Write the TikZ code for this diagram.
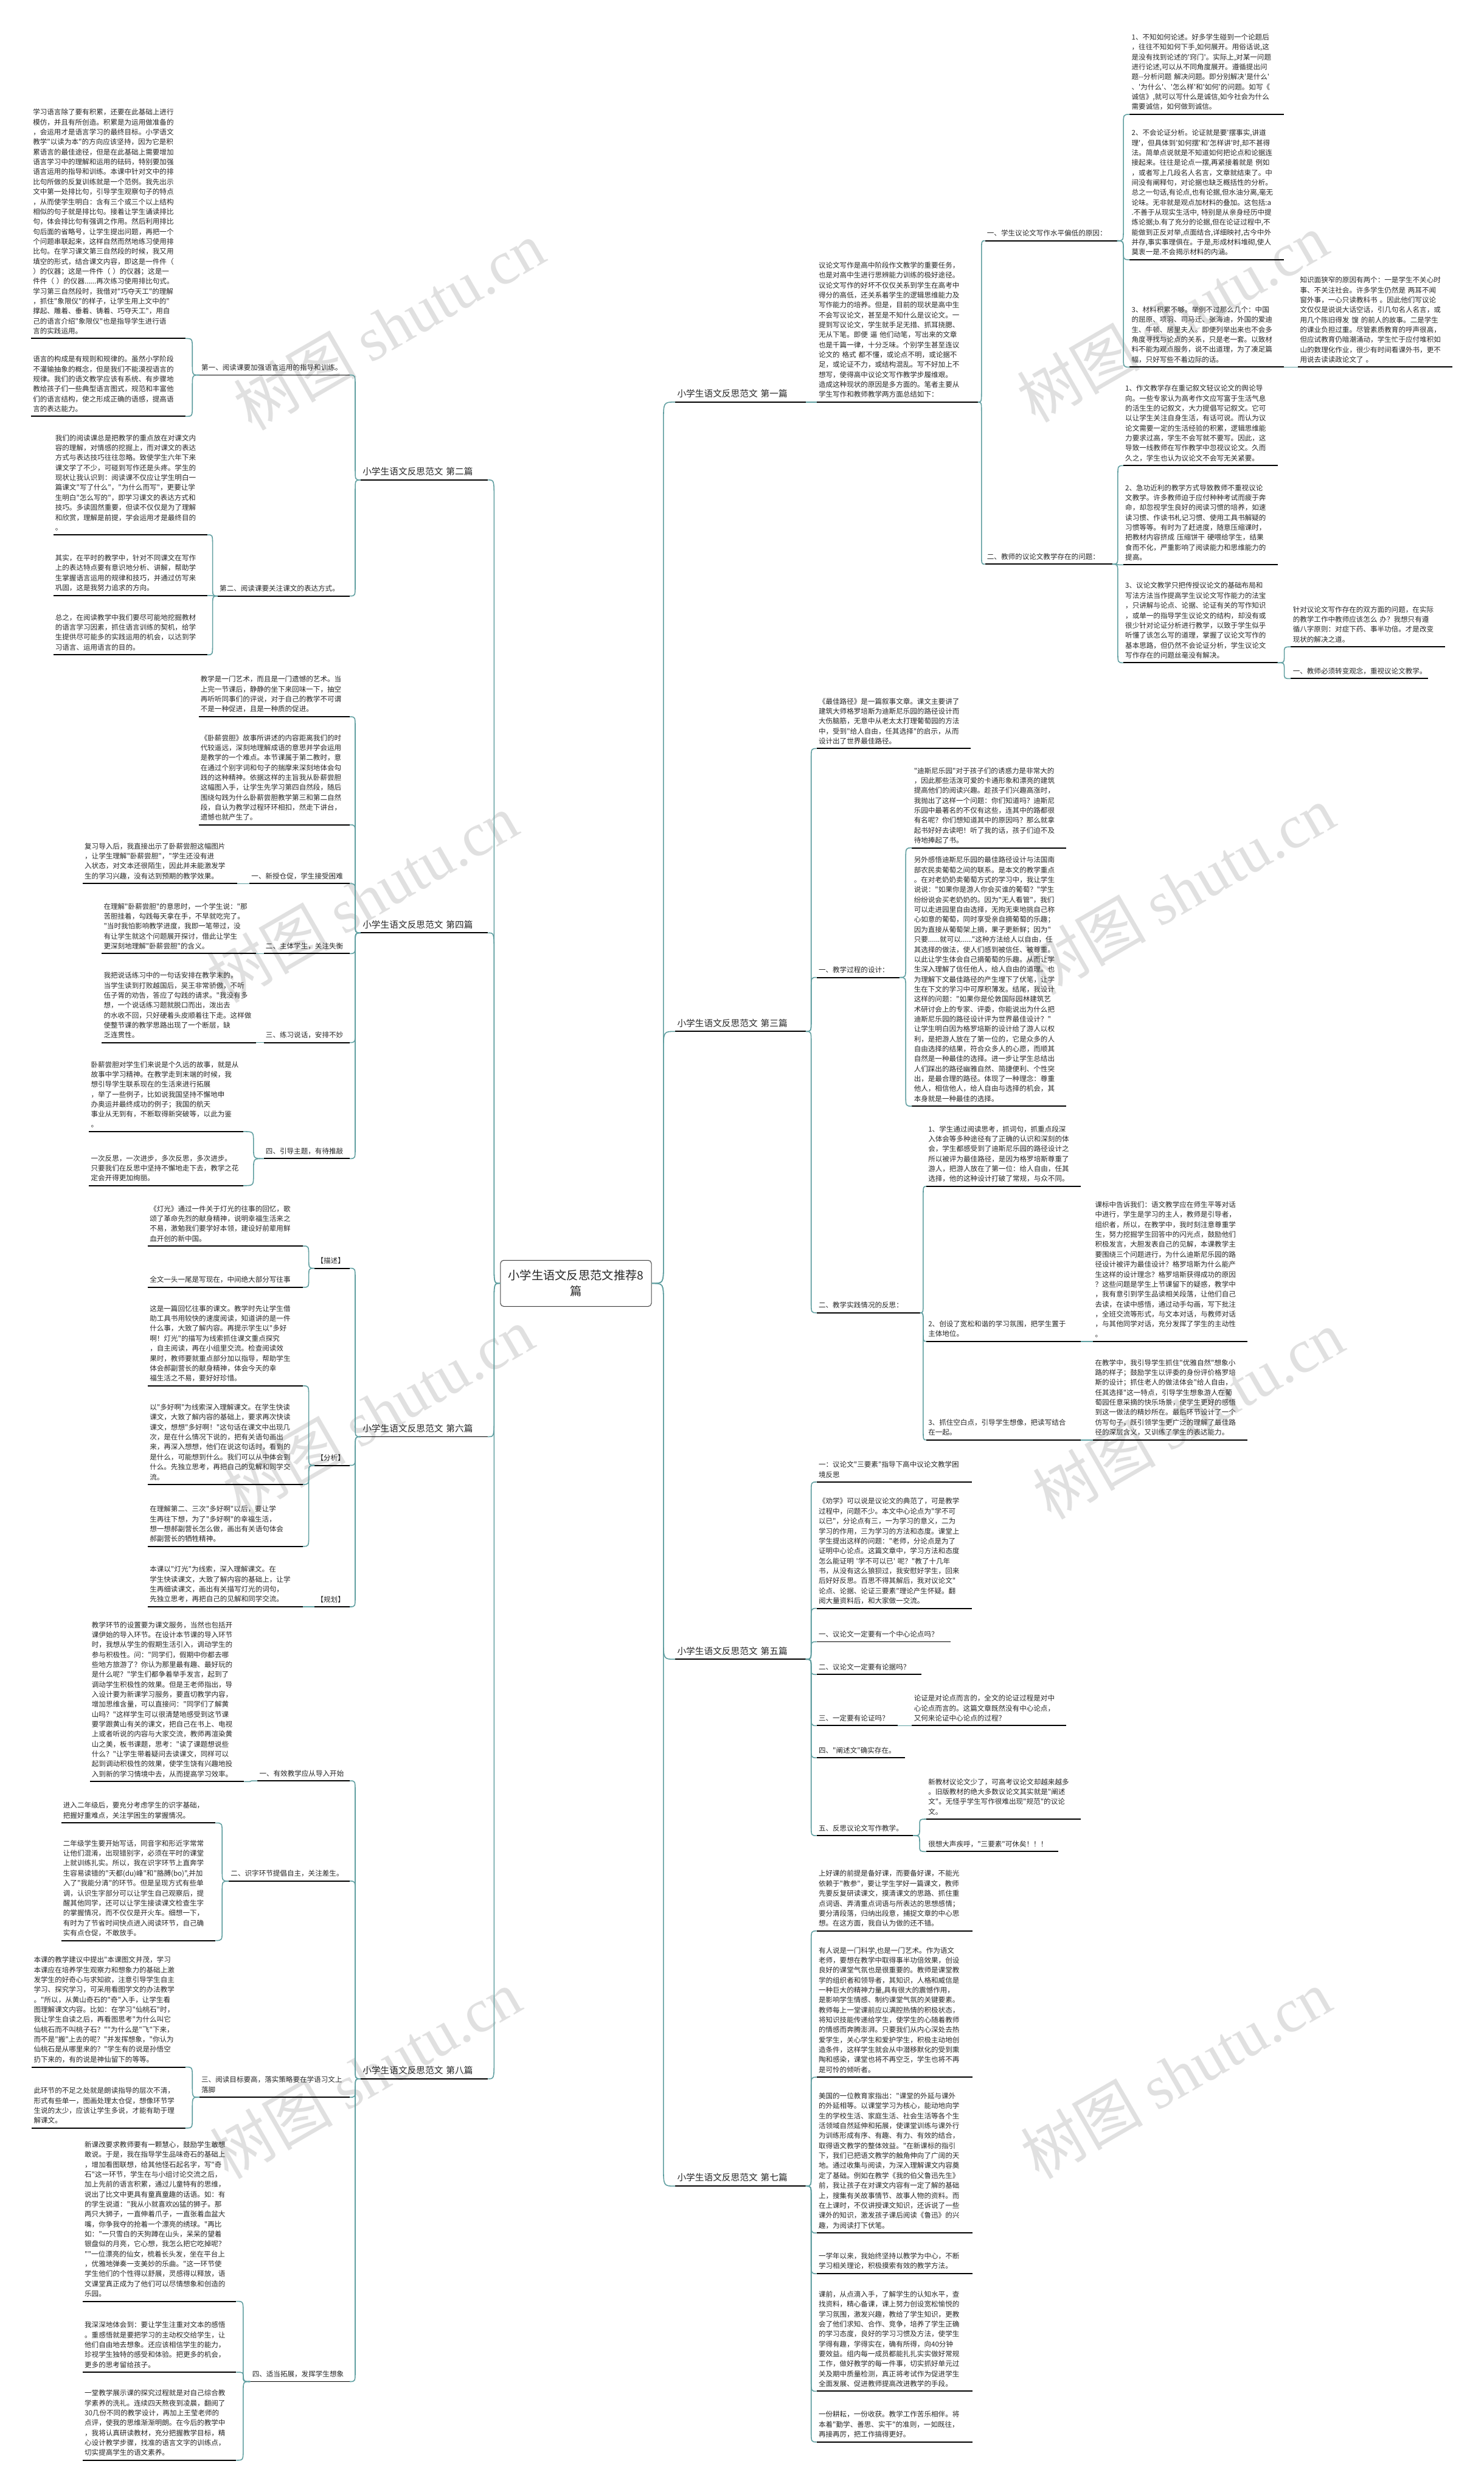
\documentclass[tikz,border=0pt]{standalone}
\usepackage{fontspec}
\setmainfont{Noto Sans CJK SC}[Ligatures=TeXOff]
\newfontfamily\wmlatin{Liberation Serif}
\usetikzlibrary{calc}
\definecolor{linkc}{HTML}{5F9EA0}
\definecolor{inkc}{HTML}{262626}
\newcommand\txtfont{\fontsize{12.6}{17.8}\selectfont}
\newcommand\catfont{\fontsize{16}{20}\selectfont}
\newcommand\rootfont{\fontsize{21}{28}\selectfont}
\tikzset{
  txt/.style={anchor=south west, align=left, inner xsep=1.2mm, inner ysep=2.6mm, font=\txtfont, text=inkc, text width=#1},
  cat/.style={txt=#1, font=\catfont},
  uline/.style={draw=black, line width=0.75mm},
  link/.style={draw=linkc, line width=0.6mm},
  bracket/.style={to path={let \p1=(\tikztostart), \p2=(\tikztotarget),
      \n1={0.5*(\x1+\x2)}, \n2={ifthenelse(\y2>\y1,1,-1)*min(#1*2.845,0.5*abs(\y2-\y1))} in
      .. controls (\n1,\y1) .. (\n1,\y1+\n2) -- (\n1,\y2-\n2) .. controls (\n1,\y2) .. (\tikztotarget)}},
  bracket/.default=7,
  wmark/.style={rotate=30, text=black!20, opacity=0.6, font=\fontsize{110}{110}\selectfont}
}
\begin{document}
\begin{tikzpicture}[x=1mm, y=-1mm]
\useasboundingbox (0,0) rectangle (934,1568);

% watermark
\foreach \wx/\wy [count=\k] in {245/205, 228/565, 238/888, 230/1305, 738/200, 742/560, 748/890, 740/1305}
  \node[wmark] (wm\k) at (\wx,\wy) {树图 {\wmlatin shutu.cn}};

% centre
\node[draw=black!75, line width=0.4mm, rounded corners=2mm, minimum width=95mm, minimum height=29mm,
  text width=89mm, align=center, font=\rootfont, text=inkc] (root) at (362.5,807.5) {小学生语文反思范文推荐8\\篇};

% ---------- first
\node[cat=79.6mm] (p1) at (425,253) {小学生语文反思范文 第一篇};
\node[txt=99mm] (p1i) at (514,253) {议论文写作是高中阶段作文教学的重要任务，\\
也是对高中生进行思辨能力训练的极好途径。\\
议论文写作的好坏不仅仅关系到学生在高考中\\
得分的高低，还关系着学生的逻辑思维能力及\\
写作能力的培养。但是，目前的现状是高中生\\
不会写议论文，甚至是不知什么是议论文。一\\
提到写议论文，学生就手足无措、抓耳挠腮、\\
无从下笔。即便 逼 他们动笔，写出来的文章\\
也是千篇一律，十分乏味。个别学生甚至连议\\
论文的 格式 都不懂，或论点不明，或论据不\\
足，或论证不力，或结构混乱。写不好加上不\\
想写，使得高中议论文写作教学步履维艰。\\
造成这种现状的原因是多方面的。笔者主要从\\
学生写作和教师教学两方面总结如下：};
\node[txt=80.6mm] (p1a) at (620,151.5) {一、学生议论文写作水平偏低的原因：};
\node[txt=94.6mm] (p1a1) at (711,72) {1、不知如何论述。好多学生碰到一个论题后\\
，往往不知如何下手,如何展开。用俗话说,这\\
是没有找到论述的'窍门'。实际上,对某一问题\\
进行论述,可以从不同角度展开。遵循提出问\\
题--分析问题 解决问题。即分别解决'是什么'\\
、'为什么'、'怎么样'和'如何'的问题。如写《\\
诚信》,就可以写什么是诚信,如今社会为什么\\
需要诚信，如何做到诚信。};
\node[txt=94.6mm] (p1a2) at (711,163.4) {2、不会论证分析。论证就是要'摆事实,讲道\\
理'，但具体到'如何摆'和'怎样讲'时,却不甚得\\
法。简单点说就是不知道如何把论点和论据连\\
接起来。往往是论点一摆,再紧接着就是 例如\\
，或者写上几段名人名言，文章就结束了。中\\
间没有阐释句，对论据也缺乏概括性的分析。\\
总之一句话,有论点,也有论据,但水油分离,毫无\\
论味。无非就是观点加材料的叠加。这包括:a\\
.不善于从现实生活中, 特别是从亲身经历中提\\
炼论据;b.有了充分的论据,但在论证过程中,不\\
能做到正反对举,点面结合,详细映衬,古今中外\\
并存,事实事理俱在。于是,形成材料堆砌,使人\\
莫衷一是.不会揭示材料的内涵。};
\node[txt=94.6mm] (p1a3) at (711,231) {3、材料积累不够。举例不过那么几个：中国\\
的屈原、项羽、司马迁、张海迪，外国的爱迪\\
生、牛顿、居里夫人。即便列举出来也不会多\\
角度寻找与论点的关系，只是老一套。以致材\\
料不能为观点服务，说不出道理，为了凑足篇\\
幅，只好写些不着边际的话。};
\node[txt=94.6mm] (p1a3x) at (817,231) {知识面狭窄的原因有两个：一是学生不关心时\\
事、不关注社会。许多学生仍然是 两耳不闻\\
窗外事，一心只读教科书 。因此他们写议论\\
文仅仅是说说大话空话，引几句名人名言，或\\
用几个陈旧得发 馊 的前人的故事。二是学生\\
的课业负担过重。尽管素质教育的呼声很高，\\
但应试教育仍暗潮涌动，学生忙于应付堆积如\\
山的数理化作业，很少有时间看课外书，更不\\
用说去读读政论文了 。};
\node[txt=77.6mm] (p1b) at (620,355) {二、教师的议论文教学存在的问题：};
\node[txt=94.6mm] (p1b1) at (707,293) {1、作文教学存在重记叙文轻议论文的舆论导\\
向。一些专家认为高考作文应写富于生活气息\\
的活生生的记叙文，大力提倡写记叙文。它可\\
以让学生关注自身生活，有话可说。而认为议\\
论文需要一定的生活经验的积累，逻辑思维能\\
力要求过高，学生不会写就不要写。因此，这\\
导致一线教师在写作教学中忽视议论文。久而\\
久之，学生也认为议论文不会写无关紧要。};
\node[txt=94.6mm] (p1b2) at (707,355.4) {2、急功近利的教学方式导致教师不重视议论\\
文教学。许多教师迫于应付种种考试而疲于奔\\
命，却忽视学生良好的阅读习惯的培养，如速\\
读习惯、作读书札记习惯、使用工具书解疑的\\
习惯等等。有时为了赶进度，随意压缩课时，\\
把教材内容挤成 压缩饼干 硬喂给学生，结果\\
食而不化，严重影响了阅读能力和思维能力的\\
提高。};
\node[txt=94.6mm] (p1b3) at (707,417) {3、议论文教学只把传授议论文的基础布局和\\
写法方法当作提高学生议论文写作能力的法宝\\
，只讲解与论点、论据、论证有关的写作知识\\
，或单一的指导学生议论文的结构，却没有或\\
很少针对论证分析进行教学，以致于学生似乎\\
听懂了该怎么写的道理，掌握了议论文写作的\\
基本思路，但仍然不会论证分析，学生议论文\\
写作存在的问题丝毫没有解决。};
\node[txt=94.6mm] (p1b3x) at (812.5,407) {针对议论文写作存在的双方面的问题，在实际\\
的教学工作中教师应该怎么 办？我想只有遵\\
循八字原则：对症下药、事半功倍。才是改变\\
现状的解决之道。};
\node[txt=83.6mm] (p1b3y) at (812.5,427) {一、教师必须转变观念，重视议论文教学。};

% ---------- third
\node[cat=79.6mm] (p3) at (425,649) {小学生语文反思范文 第三篇};
\node[txt=94.6mm] (p3i) at (514,471) {《最佳路径》是一篇叙事文章。课文主要讲了\\
建筑大师格罗培斯为迪斯尼乐园的路径设计而\\
大伤脑筋，无意中从老太太打理葡萄园的方法\\
中，受到"给人自由，任其选择"的启示，从而\\
设计出了世界最佳路径。};
\node[txt=49.6mm] (p3a) at (514,615) {一、教学过程的设计：};
\node[txt=94.6mm] (p3a1) at (574,533.5) {"迪斯尼乐园"对于孩子们的诱惑力是非常大的\\
，因此那些活泼可爱的卡通形象和漂亮的建筑\\
提高他们的阅读兴趣。趁孩子们兴趣高涨时，\\
我抛出了这样一个问题：你们知道吗？迪斯尼\\
乐园中最著名的不仅有这些，连其中的路都很\\
有名呢？你们想知道其中的原因吗？那么就拿\\
起书好好去读吧！听了我的话，孩子们迫不及\\
待地捧起了书。};
\node[txt=94.6mm] (p3a2) at (574,696) {另外感悟迪斯尼乐园的最佳路径设计与法国南\\
部农民卖葡萄之间的联系。是本文的教学重点\\
。在对老奶奶卖葡萄方式的学习中，我让学生\\
说说："如果你是游人你会买谁的葡萄？"学生\\
纷纷说会买老奶奶的。因为"无人看管"，我们\\
可以走进园里自由选择，无拘无束地挑自己称\\
心如意的葡萄，同时享受亲自摘葡萄的乐趣；\\
因为直接从葡萄架上摘，果子更新鲜；因为"\\
只要......就可以......"这种方法给人以自由，任\\
其选择的做法，使人们感到被信任、被尊重。\\
以此让学生体会自己摘葡萄的乐趣。从而让学\\
生深入理解了信任他人，给人自由的道理。也\\
为理解下文最佳路径的产生埋下了伏笔，让学\\
生在下文的学习中可厚积薄发。结尾，我设计\\
这样的问题："如果你是伦敦国际园林建筑艺\\
术研讨会上的专家、评委，你能说出为什么把\\
迪斯尼乐园的路径设计评为世界最佳设计？"\\
让学生明白因为格罗培斯的设计给了游人以权\\
利，是把游人放在了第一位的，它是众多的人\\
自由选择的结果，符合众多人的心愿，而顺其\\
自然是一种最佳的选择。进一步让学生总结出\\
人们踩出的路径幽雅自然、简捷便利、个性突\\
出，是最合理的路径。体现了一种理念：尊重\\
他人，相信他人，给人自由与选择的机会，其\\
本身就是一种最佳的选择。};
\node[txt=62.6mm] (p3b) at (514,826) {二、教学实践情况的反思：};
\node[txt=94.6mm] (p3b1) at (583,746.5) {1、学生通过阅读思考，抓词句，抓重点段深\\
入体会等多种途径有了正确的认识和深刻的体\\
会，学生都感受到了迪斯尼乐园的路径设计之\\
所以被评为最佳路径，是因为格罗培斯尊重了\\
游人，把游人放在了第一位：给人自由，任其\\
选择，他的这种设计打破了常规，与众不同。};
\node[txt=94.6mm] (p3b2) at (583,844) {2、创设了宽松和谐的学习氛围，把学生置于\\
主体地位。};
\node[txt=94.6mm] (p3b2x) at (688,844) {课标中告诉我们：语文教学应在师生平等对话\\
中进行，学生是学习的主人，教师是引导者，\\
组织者，所以，在教学中，我时刻注意尊重学\\
生，努力挖掘学生回答中的闪光点，鼓励他们\\
积极发言，大胆发表自己的见解，本课教学主\\
要围绕三个问题进行，为什么迪斯尼乐园的路\\
径设计被评为最佳设计？格罗培斯为什么能产\\
生这样的设计理念？格罗培斯获得成功的原因\\
？这些问题是学生上节课留下的疑惑，教学中\\
，我有意引到学生品读相关段落，让他们自己\\
去读，在读中感悟，通过动手勾画，写下批注\\
，全班交流等形式，与文本对话，与教师对话\\
，与其他同学对话，充分发挥了学生的主动性\\
。};
\node[txt=94.6mm] (p3b3) at (583,906) {3、抓住空白点，引导学生想像，把读写结合\\
在一起。};
\node[txt=94.6mm] (p3b3x) at (688,906) {在教学中，我引导学生抓住"优雅自然"想象小\\
路的样子；鼓励学生以评委的身份评价格罗培\\
斯的设计；抓住老人的做法体会"给人自由，\\
任其选择"这一特点，引导学生想象游人在葡\\
萄园任意采摘的快乐场景，使学生更好的感悟\\
到这一做法的精妙所在。最后环节设计了一个\\
仿写句子，既引领学生更广泛的理解了最佳路\\
径的深层含义，又训练了学生的表达能力。};

% ---------- fifth
\node[cat=79.6mm] (p5) at (425,1044) {小学生语文反思范文 第五篇};
\node[txt=95.1mm] (p5a) at (514,932.5) {一：议论文"三要素"指导下高中议论文教学困\\
境反思};
\node[txt=95.1mm] (p5b) at (514,1012) {《劝学》可以说是议论文的典范了，可是教学\\
过程中，问题不少。本文中心论点为"学不可\\
以已"，分论点有三，一为学习的意义，二为\\
学习的作用，三为学习的方法和态度。课堂上\\
学生提出这样的问题："老师，分论点是为了\\
证明中心论点。这篇文章中，学习方法和态度\\
怎么能证明 '学不可以已' 呢？"教了十几年\\
书，从没有这么狼狈过，我安慰好学生，回来\\
后好好反思。百思不得其解后，我对议论文"\\
论点、论据、论证三要素"理论产生怀疑。翻\\
阅大量资料后，和大家做一交流。};
\node[txt=81.6mm] (p5c) at (514,1033) {一、议论文一定要有一个中心论点吗？};
\node[txt=63.6mm] (p5d) at (514,1053.6) {二、议论文一定要有论据吗？};
\node[txt=48.6mm] (p5e) at (514,1085.8) {三、一定要有论证吗？};
\node[txt=94.6mm] (p5ex) at (574,1085.8) {论证是对论点而言的，全文的论证过程是对中\\
心论点而言的。这篇文章既然没有中心论点，\\
又何来论证中心论点的过程？};
\node[txt=53.1mm] (p5f) at (514,1106) {四、"阐述文"确实存在。};
\node[txt=58.1mm] (p5g) at (514,1155) {五、反思议论文写作教学。};
\node[txt=94.6mm] (p5g1) at (583,1144.6) {新教材议论文少了，可高考议论文却越来越多\\
。旧版教材的绝大多数议论文其实就是"阐述\\
文"。无怪乎学生写作很难出现"规范"的议论\\
文。};
\node[txt=80.6mm] (p5g2) at (583,1165) {很想大声疾呼，"三要素"可休矣！！！};

% ---------- seventh
\node[cat=79.6mm] (p7) at (425,1375.5) {小学生语文反思范文 第七篇};
\node[txt=95.6mm] (p7a) at (514,1215) {上好课的前提是备好课，而要备好课，不能光\\
依赖于"教参"，要让学生学好一篇课文，教师\\
先要反复研读课文，摸清课文的思路、抓住重\\
点词语、弄清重点词语与所表达的思想感情；\\
要分清段落，归纳出段意，捕捉文章的中心思\\
想。在这方面，我自认为做的还不错。};
\node[txt=95.6mm] (p7b) at (514,1307) {有人说是一门科学,也是一门艺术。作为语文\\
老师，要想在教学中取得事半功倍效果，创设\\
良好的课堂气氛也是很重要的。教师是课堂教\\
学的组织者和领导者，其知识，人格和威信是\\
一种巨大的精神力量,具有很大的震憾作用，\\
是影响学生情感、制约课堂气氛的关键要素。\\
教师每上一堂课前应以满腔热情的积极状态，\\
将知识技能传递给学生，使学生的心随着教师\\
的情感而奔腾澎湃。只要我们从内心深处去热\\
爱学生，关心学生和爱护学生，积极主动地创\\
造条件，这样学生就会从中潜移默化的受到熏\\
陶和感染，课堂也将不再空乏，学生也将不再\\
是可怜的倾听者。};
\node[txt=95.6mm] (p7c) at (514,1405) {美国的一位教育家指出："课堂的外延与课外\\
的外延相等。以课堂学习为核心，能动地向学\\
生的学校生活、家庭生活、社会生活等各个生\\
活领域自然延伸和拓展，使课堂训练与课外行\\
为训练形成有序、有趣、有力、有效的结合，\\
取得语文教学的整体效益。"在新课标的指引\\
下，我们已把语文教学的触角伸向了广阔的天\\
地。通过收集与阅读，为深入理解课文内容奠\\
定了基础。例如在教学《我的伯父鲁迅先生》\\
前，我让孩子在对课文内容有一定了解的基础\\
上，搜集有关故事情节、故事人物的资料。而\\
在上课时，不仅讲授课文知识，还诉说了一些\\
课外的知识，激发孩子课后阅读《鲁迅》的兴\\
趣，为阅读打下伏笔。};
\node[txt=95.6mm] (p7d) at (514,1430.6) {一学年以来，我始终坚持以教学为中心，不断\\
学习相关理论，积极摸索有效的教学方法。};
\node[txt=95.6mm] (p7e) at (514,1504.6) {课前，从点滴入手，了解学生的认知水平，查\\
找资料，精心备课，课上努力创设宽松愉悦的\\
学习氛围，激发兴趣，教给了学生知识，更教\\
会了他们求知、合作、竞争，培养了学生正确\\
的学习态度，良好的学习习惯及方法，使学生\\
学得有趣，学得实在，确有所得，向40分钟\\
要效益。组内每一成员都能扎扎实实做好常规\\
工作，做好教学的每一件事，切实抓好单元过\\
关及期中质量检测，真正将考试作为促进学生\\
全面发展、促进教师提高改进教学的手段。};
\node[txt=95.6mm] (p7f) at (514,1536.5) {一份耕耘，一份收获。教学工作苦乐相伴。将\\
本着"勤学、善思、实干"的准则，一如既往，\\
再接再厉，把工作搞得更好。};

% ---------- second
\node[cat=77.6mm] (p2) at (227,302) {小学生语文反思范文 第二篇};
\node[txt=92.1mm] (p2a) at (125.5,236) {第一、阅读课要加强语言运用的指导和训练。};
\node[txt=94.6mm] (p2a1) at (19.5,213) {学习语言除了要有积累，还要在此基础上进行\\
模仿，并且有所创造。积累是为运用做准备的\\
，会运用才是语言学习的最终目标。小学语文\\
教学"以读为本"的方向应该坚持，因为它是积\\
累语言的最佳途径，但是在此基础上需要增加\\
语言学习中的理解和运用的砝码，特别要加强\\
语言运用的指导和训练。本课中针对文中的排\\
比句所做的反复训练就是一个范例。我先出示\\
文中第一处排比句，引导学生观察句子的特点\\
，从而使学生明白：含有三个或三个以上结构\\
相似的句子就是排比句。接着让学生诵读排比\\
句，体会排比句有强调之作用。然后利用排比\\
句后面的省略号，让学生提出问题，再把一个\\
个问题串联起来，这样自然而然地练习使用排\\
比句。在学习课文第三自然段的时候，我又用\\
填空的形式，结合课文内容，即这是一件件（\\
）的仪器；这是一件件（ ）的仪器；这是一\\
件件（ ）的仪器......再次练习使用排比句式。\\
学习第三自然段时，我借对"巧夺天工"的理解\\
，抓住"象限仪"的样子，让学生用上文中的"\\
撑起、雕着、垂着、铸着、巧夺天工"，用自\\
己的语言介绍"象限仪"也是指导学生进行语\\
言的实践运用。};
\node[txt=94.6mm] (p2a2) at (19.5,262) {语言的构成是有规则和规律的。虽然小学阶段\\
不灌输抽象的概念，但是我们不能漠视语言的\\
规律。我们的语文教学应该有系统、有步骤地\\
教给孩子们一些典型语言图式，规范和丰富他\\
们的语言结构，使之形成正确的语感，提高语\\
言的表达能力。};
\node[txt=80.6mm] (p2b) at (137,375) {第二、阅读课要关注课文的表达方式。};
\node[txt=94.6mm] (p2b1) at (33.5,336.5) {我们的阅读课总是把教学的重点放在对课文内\\
容的理解，对情感的挖掘上，而对课文的表达\\
方式与表达技巧往往忽略。致使学生六年下来\\
课文学了不少，可碰到写作还是头疼。学生的\\
现状让我认识到：阅读课不仅应让学生明白一\\
篇课文"写了什么"，"为什么而写"，更要让学\\
生明白"怎么写的"，即学习课文的表达方式和\\
技巧。多读固然重要，但读不仅仅是为了理解\\
和欣赏，理解是前提，学会运用才是最终目的\\
。};
\node[txt=94.6mm] (p2b2) at (33.5,374.7) {其实，在平时的教学中，针对不同课文在写作\\
上的表达特点要有意识地分析、讲解，帮助学\\
生掌握语言运用的规律和技巧，并通过仿写来\\
巩固，这是我努力追求的方向。};
\node[txt=94.6mm] (p2b3) at (33.5,412) {总之，在阅读教学中我们要尽可能地挖掘教材\\
的语言学习因素，抓住语言训练的契机，给学\\
生提供尽可能多的实践运用的机会，以达到学\\
习语言、运用语言的目的。};

% ---------- fourth
\node[cat=77.6mm] (p4) at (227,587) {小学生语文反思范文 第四篇};
\node[txt=92.6mm] (p4i) at (125,451) {教学是一门艺术，而且是一门遗憾的艺术。当\\
上完一节课后，静静的坐下来回味一下，抽空\\
再听听同事们的评说，对于自己的教学不可谓\\
不是一种促进，且是一种质的促进。};
\node[txt=92.6mm] (p4j) at (125,519) {《卧薪尝胆》故事所讲述的内容距离我们的时\\
代较遥远，深刻地理解成语的意思并学会运用\\
是教学的一个难点。本节课属于第二教时，意\\
在通过个别字词和句子的揣摩来深刻地体会勾\\
践的这种精神。依据这样的主旨我从卧薪尝胆\\
这幅图入手，让学生先学习第四自然段，随后\\
围绕勾践为什么卧薪尝胆教学第三和第二自然\\
段，自认为教学过程环环相扣，然走下讲台，\\
遗憾也就产生了。};
\node[txt=60.6mm] (p4a) at (157,556) {一、新授仓促，学生接受困难};
\node[txt=94.6mm] (p4a1) at (52,556) {复习导入后，我直接出示了卧薪尝胆这幅图片\\
，让学生理解"卧薪尝胆"，"学生还没有进\\
入状态，对文本还很陌生，因此并未能激发学\\
生的学习兴趣，没有达到预期的教学效果。};
\node[txt=51.6mm] (p4b) at (166,600) {二、主体学生，关注失衡};
\node[txt=94.6mm] (p4b1) at (64,600) {在理解"卧薪尝胆"的意思时，一个学生说："那\\
苦胆挂着，勾践每天拿在手，不早就吃完了。\\
"当时我怕影响教学进度，我即一笔带过，没\\
有让学生就这个问题展开探讨，借此让学生\\
更深刻地理解"卧薪尝胆"的含义。};
\node[txt=51.6mm] (p4c) at (166,656) {三、练习说话，安排不妙};
\node[txt=94.6mm] (p4c1) at (64,656) {我把说话练习中的一句话安排在教学末的，\\
当学生读到打败越国后，吴王非常骄傲，不听\\
伍子胥的劝告，答应了勾践的请求。"我没有多\\
想，一个说话练习题就脱口而出，泼出去\\
的水收不回，只好硬着头皮顺着往下走。这样做\\
使整节课的教学思路出现了一个断层，缺\\
乏连贯性。};
\node[txt=51.6mm] (p4d) at (166,729) {四、引导主题，有待推敲};
\node[txt=94.6mm] (p4d1) at (56,712) {卧薪尝胆对学生们来说是个久远的故事，就是从\\
故事中学习精神。在教学走到末端的时候，我\\
想引导学生联系现在的生活来进行拓展\\
，举了一些例子，比如说我国坚持不懈地申\\
办奥运并最终成功的例子；我国的航天\\
事业从无到有，不断取得新突破等，以此为鉴\\
。};
\node[txt=94.6mm] (p4d2) at (56,746) {一次反思，一次进步，多次反思，多次进步。\\
只要我们在反思中坚持不懈地走下去，教学之花\\
定会开得更加绚丽。};

% ---------- sixth
\node[cat=77.6mm] (p6) at (227,904) {小学生语文反思范文 第六篇};
\node[txt=19.6mm] (p6a) at (198,798) {【描述】};
\node[txt=95.1mm] (p6a1) at (93,784) {《灯光》通过一件关于灯光的往事的回忆，歌\\
颂了革命先烈的献身精神，说明幸福生活来之\\
不易，激勉我们要学好本领，建设好前辈用鲜\\
血开创的新中国。};
\node[txt=95.1mm] (p6a2) at (93,810) {全文一头一尾是写现在，中间绝大部分写往事};
\node[txt=19.6mm] (p6b) at (198,922) {【分析】};
\node[txt=95.1mm] (p6b1) at (93,872) {这是一篇回忆往事的课文。教学时先让学生借\\
助工具书用较快的速度阅读，知道讲的是一件\\
什么事，大致了解内容。再提示学生以"多好\\
啊！灯光"的描写为线索抓住课文重点探究\\
，自主阅读，再在小组里交流。检查阅读效\\
果时，教师要就重点部分加以指导，帮助学生\\
体会郝副营长的献身精神，体会今天的幸\\
福生活之不易，要好好珍惜。};
\node[txt=95.1mm] (p6b2) at (93,934) {以"多好啊"为线索深入理解课文。在学生快读\\
课文，大致了解内容的基础上，要求再次快读\\
课文，想想"多好啊！"这句话在课文中出现几\\
次，是在什么情况下说的，把有关语句画出\\
来，再深入想想，他们在说这句话时，看到的\\
是什么，可能想到什么。我们可以从中体会到\\
什么。先独立思考，再把自己的见解和同学交\\
流。};
\node[txt=95.1mm] (p6b3) at (93,973) {在理解第二、三次"多好啊"以后，要让学\\
生再往下想，为了"多好啊"的幸福生活，\\
想一想郝副营长怎么做，画出有关语句体会\\
郝副营长的牺牲精神。};
\node[txt=19.6mm] (p6c) at (198,1011) {【规划】};
\node[txt=95.1mm] (p6c1) at (93,1011) {本课以"灯光"为线索，深入理解课文。在\\
学生快读课文，大致了解内容的基础上，让学\\
生再细读课文，画出有关描写灯光的词句，\\
先独立思考，再把自己的见解和同学交流。};

% ---------- eighth
\node[cat=77.6mm] (p8) at (227,1308) {小学生语文反思范文 第八篇};
\node[txt=55.6mm] (p8a) at (162,1120.5) {一、有效教学应从导入开始};
\node[txt=94.6mm] (p8a1) at (56.5,1121) {教学环节的设置要为课文服务，当然也包括开\\
课伊始的导入环节。在设计本节课的导入环节\\
时，我想从学生的假期生活引入，调动学生的\\
参与积极性。问："同学们，假期中你都去哪\\
些地方旅游了？你认为那里最有趣、最好玩的\\
是什么呢？"学生们都争着举手发言，起到了\\
调动学生积极性的效果。但是王老师指出，导\\
入设计要为新课学习服务，要直切教学内容，\\
增加思维含量，可以直接问："同学们了解黄\\
山吗？"这样学生可以很清楚地感受到这节课\\
要学跟黄山有关的课文，把自己在书上、电视\\
上或者听说的内容与大家交流，教师再渲染黄\\
山之美，板书课题，思考："读了课题想说些\\
什么？"让学生带着疑问去读课文，同样可以\\
起到调动积极性的效果，使学生饶有兴趣地投\\
入到新的学习情境中去，从而提高学习效率。};
\node[txt=73.6mm] (p8b) at (144,1183.6) {二、识字环节提倡自主，关注差生。};
\node[txt=94.6mm] (p8b1) at (38.5,1147) {进入二年级后，要充分考虑学生的识字基础，\\
把握好重难点，关注学困生的掌握情况。};
\node[txt=94.6mm] (p8b2) at (38.5,1221) {二年级学生要开始写话，同音字和形近字常常\\
让他们混淆，出现错别字，必须在平时的课堂\\
上就训练扎实。所以，我在识字环节上直奔学\\
生容易读错的"天都(du)峰"和"胳膊(bo)",并加\\
入了"我能分清"的环节。但是呈现方式有些单\\
调，认识生字部分可以让学生自己观察后，提\\
醒其他同学，还可以让学生接读课文检查生字\\
的掌握情况，而不仅仅是开火车。细想一下，\\
有时为了节省时间快点进入阅读环节，自己确\\
实有点仓促，不敢放手。};
\node[txt=92.1mm] (p8c) at (125.5,1319.6) {三、阅读目标要高，落实策略要在学语习文上\\
落脚};
\node[txt=94.1mm] (p8c1) at (20,1300.6) {本课的教学建议中提出"本课图文并茂，学习\\
本课应在培养学生观察力和想象力的基础上激\\
发学生的好奇心与求知欲，注意引导学生自主\\
学习、探究学习，可采用看图学文的办法教学\\
。"所以，从黄山奇石的"奇"入手，让学生看\\
图理解课文内容。比如：在学习"仙桃石"时，\\
我让学生自读之后，再看图思考"为什么叫它\\
仙桃石而不叫桃子石？""为什么是"飞"下来，\\
而不是"搬"上去的呢？"并发挥想象，"你认为\\
仙桃石是从哪里来的？"学生有的说是孙悟空\\
扔下来的，有的说是神仙留下的等等。};
\node[txt=94.1mm] (p8c2) at (20,1339) {此环节的不足之处就是朗读指导的层次不清，\\
形式有些单一，图画处理太仓促，想像环节学\\
生说的太少，应该让学生多说，才能有助于理\\
解课文。};
\node[txt=60.1mm] (p8d) at (157.5,1498.5) {四、适当拓展，发挥学生想象};
\node[txt=94.1mm] (p8d1) at (52,1448) {新课改要求教师要有一颗慧心，鼓励学生敢想\\
敢说。于是，我在指导学生品味奇石的基础上\\
，增加看图联想，给其他怪石起名字，写"奇\\
石"这一环节，学生在与小组讨论交流之后，\\
加上先前的语言积累，通过儿童特有的思维，\\
说出了比文中更具有童真童趣的话语。如：有\\
的学生说道："我从小就喜欢凶猛的狮子。那\\
两只大狮子，一直伸着爪子，一直张着血盆大\\
嘴，你争我夺的抢着一个漂亮的绣球。"再比\\
如："一只雪白的天狗蹲在山头，呆呆的望着\\
银盘似的月亮，它心想，我怎么把它吃掉呢？\\
""一位漂亮的仙女，梳着长头发，坐在平台上\\
，优雅地弹奏一支美妙的乐曲。"这一环节使\\
学生他们的个性得以舒展，灵感得以释放，语\\
文课堂真正成为了他们可以尽情想象和创造的\\
乐园。};
\node[txt=94.1mm] (p8d2) at (52,1492.6) {我深深地体会到：要让学生注重对文本的感悟\\
。重感悟就是要把学习的主动权交给学生，让\\
他们自由地去想象。还应该相信学生的能力，\\
珍视学生独特的感受和体验。把更多的机会，\\
更多的思考留给孩子。};
\node[txt=94.1mm] (p8d3) at (52,1548) {一堂教学展示课的探究过程就是对自己综合教\\
学素养的洗礼。连续四天熬夜到凌晨，翻阅了\\
30几份不同的教学设计，再加上王莹老师的\\
点评，使我的思维渐渐明朗。在今后的教学中\\
，我将认真研读教材，充分把握教学目标，精\\
心设计教学步骤，找准的语言文字的训练点，\\
切实提高学生的语文素养。};

% underlines
\foreach \u in {p1,p1i,p1a,p1a1,p1a2,p1a3,p1a3x,p1b,p1b1,p1b2,p1b3,p1b3x,p1b3y,
  p3,p3i,p3a,p3a1,p3a2,p3b,p3b1,p3b2,p3b2x,p3b3,p3b3x,
  p5,p5a,p5b,p5c,p5d,p5e,p5ex,p5f,p5g,p5g1,p5g2,
  p7,p7a,p7b,p7c,p7d,p7e,p7f,
  p2,p2a,p2a1,p2a2,p2b,p2b1,p2b2,p2b3,
  p4,p4i,p4j,p4a,p4a1,p4b,p4b1,p4c,p4c1,p4d,p4d1,p4d2,
  p6,p6a,p6a1,p6a2,p6b,p6b1,p6b2,p6b3,p6c,p6c1,
  p8,p8a,p8a1,p8b,p8b1,p8b2,p8c,p8c1,p8c2,p8d,p8d1,p8d2,p8d3}
  \draw[uline] (\u.south west) -- (\u.south east);

% right-hand links
\foreach \c in {p1,p3,p5,p7} \draw[link] (root.east) to[bracket=12] (\c.south west);
\draw[link] (p1.south east) to[bracket] (p1i.south west);
\foreach \c in {p1a,p1b} \draw[link] (p1i.south east) to[bracket] (\c.south west);
\foreach \c in {p1a1,p1a2,p1a3} \draw[link] (p1a.south east) to[bracket] (\c.south west);
\draw[link] (p1a3.south east) to[bracket] (p1a3x.south west);
\foreach \c in {p1b1,p1b2,p1b3} \draw[link] (p1b.south east) to[bracket] (\c.south west);
\foreach \c in {p1b3x,p1b3y} \draw[link] (p1b3.south east) to[bracket=4] (\c.south west);
\foreach \c in {p3i,p3a,p3b} \draw[link] (p3.south east) to[bracket] (\c.south west);
\foreach \c in {p3a1,p3a2} \draw[link] (p3a.south east) to[bracket] (\c.south west);
\foreach \c in {p3b1,p3b2,p3b3} \draw[link] (p3b.south east) to[bracket] (\c.south west);
\draw[link] (p3b2.south east) to[bracket] (p3b2x.south west);
\draw[link] (p3b3.south east) to[bracket] (p3b3x.south west);
\foreach \c in {p5a,p5b,p5c,p5d,p5e,p5f,p5g} \draw[link] (p5.south east) to[bracket] (\c.south west);
\draw[link] (p5e.south east) to[bracket] (p5ex.south west);
\foreach \c in {p5g1,p5g2} \draw[link] (p5g.south east) to[bracket=4] (\c.south west);
\foreach \c in {p7a,p7b,p7c,p7d,p7e,p7f} \draw[link] (p7.south east) to[bracket] (\c.south west);

% left-hand links
\foreach \c in {p2,p4,p6,p8} \draw[link] (root.west) to[bracket=12] (\c.south east);
\foreach \c in {p2a,p2b} \draw[link] (p2.south west) to[bracket] (\c.south east);
\foreach \c in {p2a1,p2a2} \draw[link] (p2a.south west) to[bracket] (\c.south east);
\foreach \c in {p2b1,p2b2,p2b3} \draw[link] (p2b.south west) to[bracket] (\c.south east);
\foreach \c in {p4i,p4j,p4a,p4b,p4c,p4d} \draw[link] (p4.south west) to[bracket] (\c.south east);
\draw[link] (p4a.south west) to[bracket] (p4a1.south east);
\draw[link] (p4b.south west) to[bracket] (p4b1.south east);
\draw[link] (p4c.south west) to[bracket] (p4c1.south east);
\foreach \c in {p4d1,p4d2} \draw[link] (p4d.south west) to[bracket] (\c.south east);
\foreach \c in {p6a,p6b,p6c} \draw[link] (p6.south west) to[bracket] (\c.south east);
\foreach \c in {p6a1,p6a2} \draw[link] (p6a.south west) to[bracket] (\c.south east);
\foreach \c in {p6b1,p6b2,p6b3} \draw[link] (p6b.south west) to[bracket] (\c.south east);
\draw[link] (p6c.south west) to[bracket] (p6c1.south east);
\foreach \c in {p8a,p8b,p8c,p8d} \draw[link] (p8.south west) to[bracket] (\c.south east);
\draw[link] (p8a.south west) to[bracket] (p8a1.south east);
\foreach \c in {p8b1,p8b2} \draw[link] (p8b.south west) to[bracket] (\c.south east);
\foreach \c in {p8c1,p8c2} \draw[link] (p8c.south west) to[bracket] (\c.south east);
\foreach \c in {p8d1,p8d2,p8d3} \draw[link] (p8d.south west) to[bracket] (\c.south east);
\end{tikzpicture}
\end{document}
